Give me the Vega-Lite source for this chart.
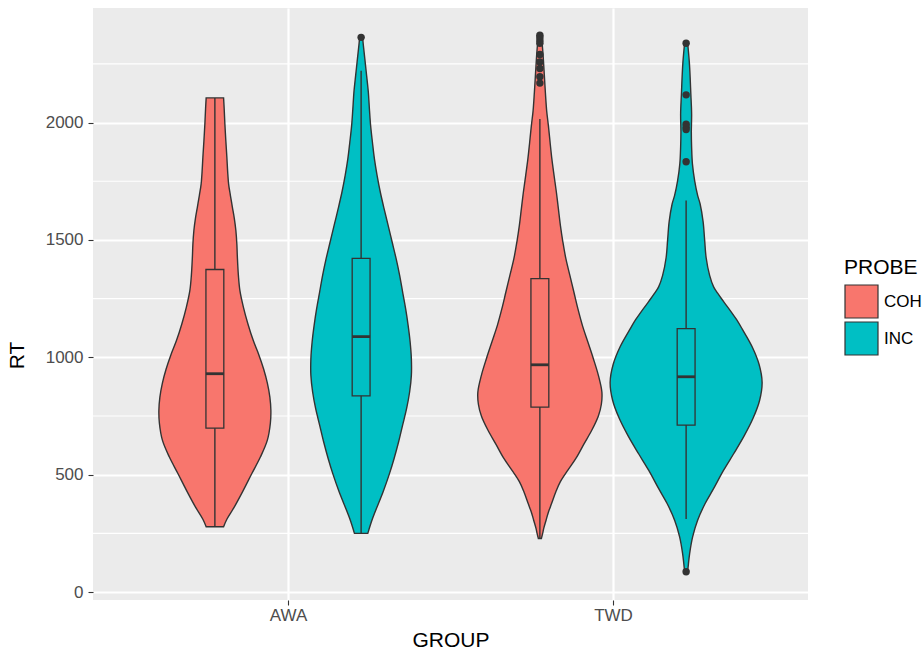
{
  "$schema": "https://vega.github.io/schema/vega-lite/v6.json",
  "width": 715,
  "height": 592,
  "autosize": {"type": "none"},
  "padding": {"left": 93, "top": 8, "right": 116, "bottom": 52},
  "background": "white",
  "config": {
    "font": "Liberation Sans",
    "view": {"fill": "#EBEBEB", "stroke": null},
    "axis": {
      "domain": false,
      "grid": true,
      "gridColor": "white",
      "gridWidth": 2.2,
      "ticks": true,
      "tickColor": "#333333",
      "tickSize": 5,
      "tickWidth": 1.1,
      "labelFontSize": 17,
      "labelColor": "#4D4D4D",
      "titleFontSize": 21,
      "titleFontWeight": "normal",
      "titleColor": "black"
    },
    "legend": {
      "orient": "none",
      "legendX": 751,
      "legendY": 249,
      "titleFontSize": 21,
      "titleFontWeight": "normal",
      "titleColor": "black",
      "titlePadding": 6,
      "labelFontSize": 17,
      "labelColor": "black",
      "labelOffset": 5,
      "symbolType": "square",
      "symbolSize": 1089,
      "symbolStrokeColor": "#333333",
      "symbolStrokeWidth": 1.2,
      "symbolOpacity": 1,
      "rowPadding": -4
    }
  },
  "datasets": {
    "violin": [
      {"GROUP": "AWA", "PROBE": "COH", "RT": 278, "w": 0.0268},
      {"GROUP": "AWA", "PROBE": "COH", "RT": 310, "w": 0.0369},
      {"GROUP": "AWA", "PROBE": "COH", "RT": 363, "w": 0.0600},
      {"GROUP": "AWA", "PROBE": "COH", "RT": 430, "w": 0.0862},
      {"GROUP": "AWA", "PROBE": "COH", "RT": 505, "w": 0.1138},
      {"GROUP": "AWA", "PROBE": "COH", "RT": 575, "w": 0.1400},
      {"GROUP": "AWA", "PROBE": "COH", "RT": 647, "w": 0.1615},
      {"GROUP": "AWA", "PROBE": "COH", "RT": 720, "w": 0.1708},
      {"GROUP": "AWA", "PROBE": "COH", "RT": 774, "w": 0.1723},
      {"GROUP": "AWA", "PROBE": "COH", "RT": 830, "w": 0.1692},
      {"GROUP": "AWA", "PROBE": "COH", "RT": 890, "w": 0.1615},
      {"GROUP": "AWA", "PROBE": "COH", "RT": 950, "w": 0.1500},
      {"GROUP": "AWA", "PROBE": "COH", "RT": 1010, "w": 0.1354},
      {"GROUP": "AWA", "PROBE": "COH", "RT": 1070, "w": 0.1185},
      {"GROUP": "AWA", "PROBE": "COH", "RT": 1143, "w": 0.1015},
      {"GROUP": "AWA", "PROBE": "COH", "RT": 1214, "w": 0.0877},
      {"GROUP": "AWA", "PROBE": "COH", "RT": 1285, "w": 0.0769},
      {"GROUP": "AWA", "PROBE": "COH", "RT": 1350, "w": 0.0723},
      {"GROUP": "AWA", "PROBE": "COH", "RT": 1427, "w": 0.0692},
      {"GROUP": "AWA", "PROBE": "COH", "RT": 1480, "w": 0.0677},
      {"GROUP": "AWA", "PROBE": "COH", "RT": 1540, "w": 0.0646},
      {"GROUP": "AWA", "PROBE": "COH", "RT": 1590, "w": 0.0600},
      {"GROUP": "AWA", "PROBE": "COH", "RT": 1640, "w": 0.0538},
      {"GROUP": "AWA", "PROBE": "COH", "RT": 1690, "w": 0.0477},
      {"GROUP": "AWA", "PROBE": "COH", "RT": 1739, "w": 0.0422},
      {"GROUP": "AWA", "PROBE": "COH", "RT": 1790, "w": 0.0394},
      {"GROUP": "AWA", "PROBE": "COH", "RT": 1852, "w": 0.0369},
      {"GROUP": "AWA", "PROBE": "COH", "RT": 1920, "w": 0.0338},
      {"GROUP": "AWA", "PROBE": "COH", "RT": 1994, "w": 0.0308},
      {"GROUP": "AWA", "PROBE": "COH", "RT": 2060, "w": 0.0286},
      {"GROUP": "AWA", "PROBE": "COH", "RT": 2105, "w": 0.0268},

      {"GROUP": "AWA", "PROBE": "INC", "RT": 250, "w": 0.0206},
      {"GROUP": "AWA", "PROBE": "INC", "RT": 314, "w": 0.0354},
      {"GROUP": "AWA", "PROBE": "INC", "RT": 427, "w": 0.0677},
      {"GROUP": "AWA", "PROBE": "INC", "RT": 500, "w": 0.0862},
      {"GROUP": "AWA", "PROBE": "INC", "RT": 569, "w": 0.1015},
      {"GROUP": "AWA", "PROBE": "INC", "RT": 640, "w": 0.1154},
      {"GROUP": "AWA", "PROBE": "INC", "RT": 711, "w": 0.1277},
      {"GROUP": "AWA", "PROBE": "INC", "RT": 782, "w": 0.1400},
      {"GROUP": "AWA", "PROBE": "INC", "RT": 852, "w": 0.1492},
      {"GROUP": "AWA", "PROBE": "INC", "RT": 923, "w": 0.1546},
      {"GROUP": "AWA", "PROBE": "INC", "RT": 994, "w": 0.1546},
      {"GROUP": "AWA", "PROBE": "INC", "RT": 1065, "w": 0.1508},
      {"GROUP": "AWA", "PROBE": "INC", "RT": 1136, "w": 0.1446},
      {"GROUP": "AWA", "PROBE": "INC", "RT": 1207, "w": 0.1369},
      {"GROUP": "AWA", "PROBE": "INC", "RT": 1278, "w": 0.1277},
      {"GROUP": "AWA", "PROBE": "INC", "RT": 1349, "w": 0.1185},
      {"GROUP": "AWA", "PROBE": "INC", "RT": 1420, "w": 0.1077},
      {"GROUP": "AWA", "PROBE": "INC", "RT": 1491, "w": 0.0954},
      {"GROUP": "AWA", "PROBE": "INC", "RT": 1562, "w": 0.0831},
      {"GROUP": "AWA", "PROBE": "INC", "RT": 1632, "w": 0.0708},
      {"GROUP": "AWA", "PROBE": "INC", "RT": 1703, "w": 0.0591},
      {"GROUP": "AWA", "PROBE": "INC", "RT": 1774, "w": 0.0492},
      {"GROUP": "AWA", "PROBE": "INC", "RT": 1845, "w": 0.0409},
      {"GROUP": "AWA", "PROBE": "INC", "RT": 1916, "w": 0.0348},
      {"GROUP": "AWA", "PROBE": "INC", "RT": 1987, "w": 0.0292},
      {"GROUP": "AWA", "PROBE": "INC", "RT": 2058, "w": 0.0255},
      {"GROUP": "AWA", "PROBE": "INC", "RT": 2129, "w": 0.0222},
      {"GROUP": "AWA", "PROBE": "INC", "RT": 2200, "w": 0.0169},
      {"GROUP": "AWA", "PROBE": "INC", "RT": 2271, "w": 0.0114},
      {"GROUP": "AWA", "PROBE": "INC", "RT": 2330, "w": 0.0068},
      {"GROUP": "AWA", "PROBE": "INC", "RT": 2363, "w": 0.0046},

      {"GROUP": "TWD", "PROBE": "COH", "RT": 228, "w": 0.0046},
      {"GROUP": "TWD", "PROBE": "COH", "RT": 250, "w": 0.0086},
      {"GROUP": "TWD", "PROBE": "COH", "RT": 270, "w": 0.0117},
      {"GROUP": "TWD", "PROBE": "COH", "RT": 306, "w": 0.0191},
      {"GROUP": "TWD", "PROBE": "COH", "RT": 340, "w": 0.0262},
      {"GROUP": "TWD", "PROBE": "COH", "RT": 377, "w": 0.0360},
      {"GROUP": "TWD", "PROBE": "COH", "RT": 427, "w": 0.0492},
      {"GROUP": "TWD", "PROBE": "COH", "RT": 470, "w": 0.0631},
      {"GROUP": "TWD", "PROBE": "COH", "RT": 519, "w": 0.0862},
      {"GROUP": "TWD", "PROBE": "COH", "RT": 569, "w": 0.1108},
      {"GROUP": "TWD", "PROBE": "COH", "RT": 630, "w": 0.1354},
      {"GROUP": "TWD", "PROBE": "COH", "RT": 690, "w": 0.1600},
      {"GROUP": "TWD", "PROBE": "COH", "RT": 750, "w": 0.1800},
      {"GROUP": "TWD", "PROBE": "COH", "RT": 800, "w": 0.1892},
      {"GROUP": "TWD", "PROBE": "COH", "RT": 852, "w": 0.1908},
      {"GROUP": "TWD", "PROBE": "COH", "RT": 923, "w": 0.1800},
      {"GROUP": "TWD", "PROBE": "COH", "RT": 994, "w": 0.1646},
      {"GROUP": "TWD", "PROBE": "COH", "RT": 1065, "w": 0.1477},
      {"GROUP": "TWD", "PROBE": "COH", "RT": 1136, "w": 0.1308},
      {"GROUP": "TWD", "PROBE": "COH", "RT": 1207, "w": 0.1169},
      {"GROUP": "TWD", "PROBE": "COH", "RT": 1278, "w": 0.1046},
      {"GROUP": "TWD", "PROBE": "COH", "RT": 1349, "w": 0.0923},
      {"GROUP": "TWD", "PROBE": "COH", "RT": 1420, "w": 0.0800},
      {"GROUP": "TWD", "PROBE": "COH", "RT": 1491, "w": 0.0708},
      {"GROUP": "TWD", "PROBE": "COH", "RT": 1562, "w": 0.0631},
      {"GROUP": "TWD", "PROBE": "COH", "RT": 1633, "w": 0.0569},
      {"GROUP": "TWD", "PROBE": "COH", "RT": 1703, "w": 0.0508},
      {"GROUP": "TWD", "PROBE": "COH", "RT": 1774, "w": 0.0437},
      {"GROUP": "TWD", "PROBE": "COH", "RT": 1845, "w": 0.0369},
      {"GROUP": "TWD", "PROBE": "COH", "RT": 1916, "w": 0.0314},
      {"GROUP": "TWD", "PROBE": "COH", "RT": 1987, "w": 0.0262},
      {"GROUP": "TWD", "PROBE": "COH", "RT": 2050, "w": 0.0209},
      {"GROUP": "TWD", "PROBE": "COH", "RT": 2129, "w": 0.0169},
      {"GROUP": "TWD", "PROBE": "COH", "RT": 2200, "w": 0.0138},
      {"GROUP": "TWD", "PROBE": "COH", "RT": 2300, "w": 0.0092},
      {"GROUP": "TWD", "PROBE": "COH", "RT": 2375, "w": 0.0046},

      {"GROUP": "TWD", "PROBE": "INC", "RT": 85, "w": 0.0046},
      {"GROUP": "TWD", "PROBE": "INC", "RT": 120, "w": 0.0071},
      {"GROUP": "TWD", "PROBE": "INC", "RT": 164, "w": 0.0108},
      {"GROUP": "TWD", "PROBE": "INC", "RT": 235, "w": 0.0200},
      {"GROUP": "TWD", "PROBE": "INC", "RT": 306, "w": 0.0354},
      {"GROUP": "TWD", "PROBE": "INC", "RT": 377, "w": 0.0585},
      {"GROUP": "TWD", "PROBE": "INC", "RT": 437, "w": 0.0831},
      {"GROUP": "TWD", "PROBE": "INC", "RT": 519, "w": 0.1154},
      {"GROUP": "TWD", "PROBE": "INC", "RT": 589, "w": 0.1462},
      {"GROUP": "TWD", "PROBE": "INC", "RT": 665, "w": 0.1785},
      {"GROUP": "TWD", "PROBE": "INC", "RT": 741, "w": 0.2062},
      {"GROUP": "TWD", "PROBE": "INC", "RT": 817, "w": 0.2262},
      {"GROUP": "TWD", "PROBE": "INC", "RT": 893, "w": 0.2338},
      {"GROUP": "TWD", "PROBE": "INC", "RT": 969, "w": 0.2246},
      {"GROUP": "TWD", "PROBE": "INC", "RT": 1045, "w": 0.2031},
      {"GROUP": "TWD", "PROBE": "INC", "RT": 1121, "w": 0.1723},
      {"GROUP": "TWD", "PROBE": "INC", "RT": 1160, "w": 0.1554},
      {"GROUP": "TWD", "PROBE": "INC", "RT": 1197, "w": 0.1369},
      {"GROUP": "TWD", "PROBE": "INC", "RT": 1240, "w": 0.1138},
      {"GROUP": "TWD", "PROBE": "INC", "RT": 1273, "w": 0.0969},
      {"GROUP": "TWD", "PROBE": "INC", "RT": 1300, "w": 0.0846},
      {"GROUP": "TWD", "PROBE": "INC", "RT": 1349, "w": 0.0723},
      {"GROUP": "TWD", "PROBE": "INC", "RT": 1425, "w": 0.0615},
      {"GROUP": "TWD", "PROBE": "INC", "RT": 1501, "w": 0.0569},
      {"GROUP": "TWD", "PROBE": "INC", "RT": 1577, "w": 0.0523},
      {"GROUP": "TWD", "PROBE": "INC", "RT": 1653, "w": 0.0431},
      {"GROUP": "TWD", "PROBE": "INC", "RT": 1690, "w": 0.0354},
      {"GROUP": "TWD", "PROBE": "INC", "RT": 1753, "w": 0.0262},
      {"GROUP": "TWD", "PROBE": "INC", "RT": 1824, "w": 0.0194},
      {"GROUP": "TWD", "PROBE": "INC", "RT": 1895, "w": 0.0169},
      {"GROUP": "TWD", "PROBE": "INC", "RT": 1960, "w": 0.0160},
      {"GROUP": "TWD", "PROBE": "INC", "RT": 2037, "w": 0.0169},
      {"GROUP": "TWD", "PROBE": "INC", "RT": 2122, "w": 0.0145},
      {"GROUP": "TWD", "PROBE": "INC", "RT": 2250, "w": 0.0102},
      {"GROUP": "TWD", "PROBE": "INC", "RT": 2340, "w": 0.0046}
    ],
    "box": [
      {"GROUP": "AWA", "PROBE": "COH", "lower": 278, "q1": 698, "median": 930, "q3": 1374, "upper": 2105},
      {"GROUP": "AWA", "PROBE": "INC", "lower": 250, "q1": 836, "median": 1088, "q3": 1421, "upper": 2221},
      {"GROUP": "TWD", "PROBE": "COH", "lower": 228, "q1": 788, "median": 968, "q3": 1335, "upper": 2015},
      {"GROUP": "TWD", "PROBE": "INC", "lower": 311, "q1": 711, "median": 917, "q3": 1122, "upper": 1668}
    ],
    "outliers": [
      {"GROUP": "AWA", "PROBE": "INC", "RT": 2363},
      {"GROUP": "TWD", "PROBE": "COH", "RT": 2372},
      {"GROUP": "TWD", "PROBE": "COH", "RT": 2362},
      {"GROUP": "TWD", "PROBE": "COH", "RT": 2350},
      {"GROUP": "TWD", "PROBE": "COH", "RT": 2338},
      {"GROUP": "TWD", "PROBE": "COH", "RT": 2290},
      {"GROUP": "TWD", "PROBE": "COH", "RT": 2258},
      {"GROUP": "TWD", "PROBE": "COH", "RT": 2230},
      {"GROUP": "TWD", "PROBE": "COH", "RT": 2195},
      {"GROUP": "TWD", "PROBE": "COH", "RT": 2168},
      {"GROUP": "TWD", "PROBE": "INC", "RT": 2338},
      {"GROUP": "TWD", "PROBE": "INC", "RT": 2118},
      {"GROUP": "TWD", "PROBE": "INC", "RT": 1993},
      {"GROUP": "TWD", "PROBE": "INC", "RT": 1980},
      {"GROUP": "TWD", "PROBE": "INC", "RT": 1970},
      {"GROUP": "TWD", "PROBE": "INC", "RT": 1833},
      {"GROUP": "TWD", "PROBE": "INC", "RT": 86}
    ],
    "minor": [
      {"RT": 250}, {"RT": 750}, {"RT": 1250}, {"RT": 1750}, {"RT": 2250}
    ]
  },
  "layer": [
    {
      "data": {"name": "minor"},
      "mark": {"type": "rule", "color": "white", "strokeWidth": 1.1},
      "encoding": {
        "y": {
          "field": "RT",
          "type": "quantitative",
          "title": "RT",
          "scale": {"domain": [-34, 2488], "nice": false, "zero": false},
          "axis": {
            "values": [0, 500, 1000, 1500, 2000],
            "format": "d",
            "labelPadding": 5,
            "titleX": -70,
            "titleY": 347,
            "titleBaseline": "alphabetic",
            "titleAngle": 270
          }
        }
      }
    },
    {
      "data": {"name": "violin"},
      "transform": [
        {"calculate": "(datum.GROUP === 'AWA' ? 1 : 2) + (datum.PROBE === 'COH' ? -0.225 : 0.225)", "as": "xc"},
        {"calculate": "datum.xc - datum.w", "as": "lo"},
        {"calculate": "datum.xc + datum.w", "as": "hi"}
      ],
      "mark": {"type": "area", "orient": "horizontal", "interpolate": "catmull-rom", "stroke": "#333333", "strokeWidth": 1.4, "opacity": 1},
      "encoding": {
        "y": {"field": "RT", "type": "quantitative"},
        "x": {
          "field": "lo",
          "type": "quantitative",
          "title": "GROUP",
          "scale": {"domain": [0.4, 2.6], "nice": false, "zero": false},
          "axis": {
            "values": [1, 2],
            "labelExpr": "datum.value == 1 ? 'AWA' : 'TWD'",
            "labelPadding": 2,
            "titlePadding": 6
          }
        },
        "x2": {"field": "hi"},
        "color": {
          "field": "PROBE",
          "type": "nominal",
          "title": "PROBE",
          "scale": {"domain": ["COH", "INC"], "range": ["#F8766D", "#00BFC4"]}
        },
        "detail": {"field": "GROUP"}
      }
    },
    {
      "data": {"name": "box"},
      "transform": [
        {"calculate": "(datum.GROUP === 'AWA' ? 1 : 2) + (datum.PROBE === 'COH' ? -0.225 : 0.225)", "as": "xc"}
      ],
      "mark": {"type": "rule", "color": "#333333", "strokeWidth": 1.4},
      "encoding": {
        "x": {"field": "xc", "type": "quantitative"},
        "y": {"field": "lower", "type": "quantitative"},
        "y2": {"field": "upper"}
      }
    },
    {
      "data": {"name": "box"},
      "transform": [
        {"calculate": "(datum.GROUP === 'AWA' ? 1 : 2) + (datum.PROBE === 'COH' ? -0.225 : 0.225)", "as": "xc"},
        {"calculate": "datum.xc - 0.0275", "as": "bl"},
        {"calculate": "datum.xc + 0.0275", "as": "br"}
      ],
      "mark": {"type": "rect", "stroke": "#333333", "strokeWidth": 1.3, "opacity": 1},
      "encoding": {
        "x": {"field": "bl", "type": "quantitative"},
        "x2": {"field": "br"},
        "y": {"field": "q1", "type": "quantitative"},
        "y2": {"field": "q3"},
        "color": {"field": "PROBE", "type": "nominal"}
      }
    },
    {
      "data": {"name": "box"},
      "transform": [
        {"calculate": "(datum.GROUP === 'AWA' ? 1 : 2) + (datum.PROBE === 'COH' ? -0.225 : 0.225)", "as": "xc"},
        {"calculate": "datum.xc - 0.0275", "as": "bl"},
        {"calculate": "datum.xc + 0.0275", "as": "br"}
      ],
      "mark": {"type": "rule", "color": "#333333", "strokeWidth": 2.8},
      "encoding": {
        "x": {"field": "bl", "type": "quantitative"},
        "x2": {"field": "br"},
        "y": {"field": "median", "type": "quantitative"}
      }
    },
    {
      "data": {"name": "outliers"},
      "transform": [
        {"calculate": "(datum.GROUP === 'AWA' ? 1 : 2) + (datum.PROBE === 'COH' ? -0.225 : 0.225)", "as": "xc"}
      ],
      "mark": {"type": "circle", "color": "#333333", "size": 55, "opacity": 1},
      "encoding": {
        "x": {"field": "xc", "type": "quantitative"},
        "y": {"field": "RT", "type": "quantitative"}
      }
    }
  ]
}
